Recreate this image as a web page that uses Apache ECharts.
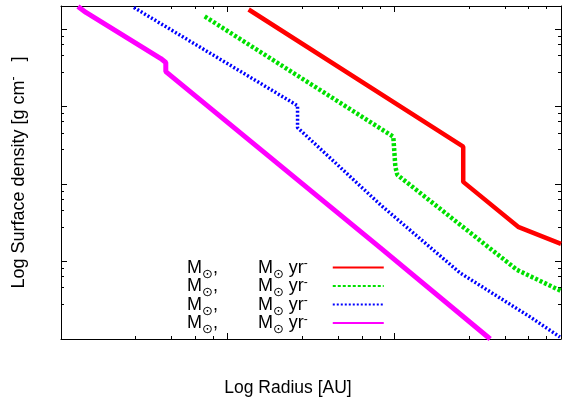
<!DOCTYPE html>
<html>
<head>
<meta charset="utf-8">
<script src="https://cdn.jsdelivr.net/npm/echarts@6/dist/echarts.min.js"></script>
<style>html,body{margin:0;padding:0;background:#fff}#c{width:562px;height:408px}</style>
</head>
<body>
<div id="c"></div>
<script>
// Radius [AU] and surface density [g cm^-2]
const radiusRed = [1.336, 25.9, 25.9, 55.3, 100];
const sigmaRed = [18030, 305, 107, 28.1, 16.9];
const radiusGreen = [0.7284, 9.86, 10.14, 10.42, 54.5, 100];
const sigmaGreen = [14650, 410, 168, 132, 7.81, 4.18];
const radiusBlue = [0.2736, 2.626, 2.626, 8.25, 24.8, 65.2, 98.6];
const sigmaBlue = [19140, 1033, 537, 54.2, 7.14, 1.93, 1.06];
const radiusMagenta = [0.1264, 0.1411, 0.397, 0.4254, 0.4254, 8.25, 37.6];
const sigmaMagenta = [19720, 16490, 4190, 3722, 2845, 15.0, 1.0];
const seriesNames = ['s1', 's2', 's3', 's4'];
const xRange = [0.1, 100];
const yRange = [1, 20000];

const FONT = 'Liberation Sans, Arial, DejaVu Sans, sans-serif';
function pairs(xs, ys) { return xs.map((x, i) => [x, ys[i]]); }

const chart = echarts.init(document.getElementById('c'), null, {renderer: 'canvas'});
const tickCommon = {
  axisLine: {show: true, onZero: false, lineStyle: {color: '#000', width: 1}},
  axisTick: {show: true, inside: true, length: 6, lineStyle: {color: '#000'}},
  minorTick: {show: true, length: 3, lineStyle: {color: '#000'}},
  axisLabel: {show: false},
  splitLine: {show: false}
};
const baseX = {type: 'log', logBase: 10, min: xRange[0], max: xRange[1]};
const baseY = {type: 'log', logBase: 10, min: yRange[0], max: yRange[1]};

const lineSeries = (name, xs, ys, color, width, type) => ({
  name, type: 'line', data: pairs(xs, ys), symbol: 'none', showSymbol: false, clip: true,
  lineStyle: {color, width, type, cap: 'butt'}, itemStyle: {color},
  emphasis: {disabled: true}, animation: false
});

const legendLabel = '{m|M}{s|⊙}{t|,}{g|}{m|M}{s|⊙}{t| yr}{p|-}{e|}';

chart.setOption({
  animation: false,
  grid: {left: 60, right: 1, top: 6, bottom: 69, containLabel: false},
  xAxis: [
    Object.assign({}, baseX, tickCommon, {position: 'bottom',
      name: 'Log Radius [AU]', nameLocation: 'middle', nameGap: 40,
      nameTextStyle: {fontFamily: FONT, fontSize: 17.5, color: '#000', padding: [0, 46, 0, 0]}}),
    Object.assign({}, baseX, tickCommon, {position: 'top'})
  ],
  yAxis: [
    Object.assign({}, baseY, tickCommon, {position: 'left',
      name: '{n|Log Surface density [g cm}{p|-}{n|   ]}', nameLocation: 'middle', nameGap: 33, nameRotate: 90,
      nameTextStyle: {rich: {
        n: {fontFamily: FONT, fontSize: 18, color: '#000', lineHeight: 20, verticalAlign: 'bottom'},
        p: {fontFamily: FONT, fontSize: 12, color: '#000', lineHeight: 20, verticalAlign: 'top'}
      }}}),
    Object.assign({}, baseY, tickCommon, {position: 'right'})
  ],
  legend: {
    show: true, orient: 'vertical', align: 'right', left: 182, top: 253,
    itemWidth: 51, itemHeight: 5, itemGap: -4.5,
    itemStyle: {opacity: 0, borderWidth: 0},
    data: seriesNames,
    formatter: () => legendLabel,
    textStyle: {rich: {
      m: {fontFamily: FONT, fontSize: 18, color: '#000', lineHeight: 19, verticalAlign: 'bottom'},
      s: {fontFamily: 'DejaVu Sans', fontSize: 13, color: '#000', lineHeight: 7, verticalAlign: 'bottom', padding: [0, 0, -4, 0]},
      t: {fontFamily: FONT, fontSize: 18, color: '#000', lineHeight: 19, verticalAlign: 'bottom'},
      p: {fontFamily: FONT, fontSize: 12, color: '#000', lineHeight: 19, verticalAlign: 'top'},
      g: {width: 40, lineHeight: 19},
      e: {width: 20, lineHeight: 19}
    }}
  },
  series: [
    lineSeries(seriesNames[0], radiusRed, sigmaRed, '#ff0000', 4.5, 'solid'),
    lineSeries(seriesNames[1], radiusGreen, sigmaGreen, '#00e000', 4.5, [3, 2]),
    lineSeries(seriesNames[2], radiusBlue, sigmaBlue, '#0000ff', 3.5, [2, 2]),
    lineSeries(seriesNames[3], radiusMagenta, sigmaMagenta, '#ff00ff', 5, 'solid')
  ]
});
</script>
</body>
</html>
